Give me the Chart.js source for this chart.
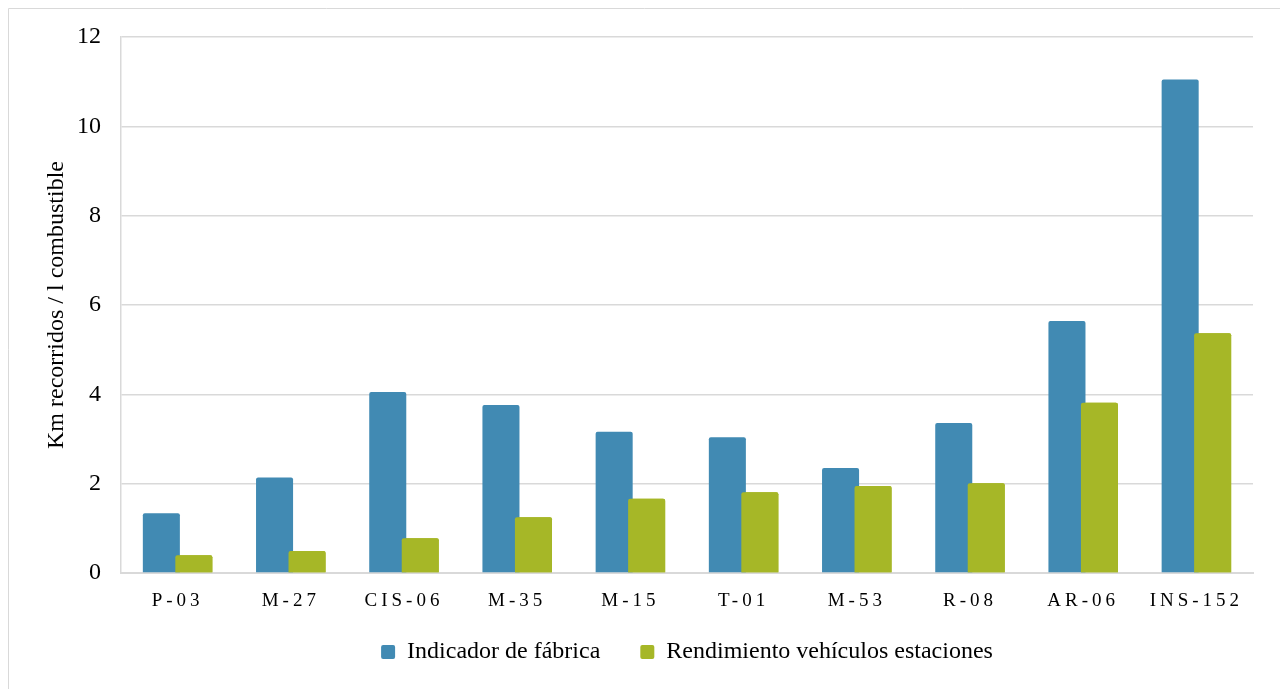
<!DOCTYPE html>
<html>
<head>
<meta charset="utf-8">
<script src="https://cdn.jsdelivr.net/npm/chart.js@4/dist/chart.umd.min.js"></script>
<style>
html,body{margin:0;padding:0;background:#fff;}
#wrap{position:absolute;left:0;top:0;width:1280px;height:689px;}
</style>
</head>
<body>
<div id="wrap"><canvas id="c" width="1280" height="689"></canvas></div>
<script>
const categories = ['P-03','M-27','CIS-06','M-35','M-15','T-01','M-53','R-08','AR-06','INS-152'];
const fabrica = [1.34, 2.14, 4.05, 3.76, 3.16, 3.04, 2.35, 3.36, 5.64, 11.05];
const rendimiento = [0.40, 0.49, 0.78, 1.25, 1.66, 1.81, 1.95, 2.01, 3.81, 5.37];
const seriesNames = ['Indicador de fábrica', 'Rendimiento vehículos estaciones'];
const yTicks = [0, 2, 4, 6, 8, 10, 12];
const yTitle = 'Km recorridos / l combustible';

const FONT = "'Liberation Serif', 'Times New Roman', serif";

const borderPlugin = {
  id: 'outerBorder',
  beforeDraw(chart) {
    const ctx = chart.ctx;
    ctx.save();
    ctx.strokeStyle = '#d9d9d9';
    ctx.lineWidth = 1;
    ctx.beginPath();
    ctx.moveTo(8.5, 700);
    ctx.lineTo(8.5, 8.5);
    ctx.lineTo(1290, 8.5);
    ctx.stroke();
    ctx.restore();
  }
};

const spacingPlugin = {
  id: 'xLetterSpacing',
  afterLayout(chart) {
    const s = chart.scales.x;
    if (s && !s._spPatched) {
      const orig = s.drawLabels.bind(s);
      s._computeLabelArea = function() { return undefined; };
      s.drawLabels = function(area) {
        const ctx = this.ctx;
        ctx.save();
        ctx.letterSpacing = '4px';
        orig(area);
        ctx.restore();
      };
      s._spPatched = true;
    }
  }
};

// second series overlaps the first one, so draw it on top
const overlapPlugin = {
  id: 'overlapOrder',
  afterDatasetsDraw(chart) {
    const meta = chart.getDatasetMeta(1);
    if (!meta.hidden) {
      const ctx = chart.ctx;
      ctx.save();
      meta.data.forEach(el => el.draw(ctx));
      ctx.restore();
    }
  }
};

new Chart(document.getElementById('c'), {
  type: 'bar',
  data: {
    labels: categories,
    datasets: [
      { label: seriesNames[0], data: fabrica, backgroundColor: '#418AB3', borderRadius: 2, borderSkipped: 'bottom',
        categoryPercentage: 0.574, barPercentage: 1.14 },
      { label: seriesNames[1], data: rendimiento, backgroundColor: '#A6B727', borderRadius: 2, borderSkipped: 'bottom',
        categoryPercentage: 0.574, barPercentage: 1.14 }
    ]
  },
  options: {
    responsive: false,
    animation: false,
    devicePixelRatio: 1,
    layout: { padding: { left: 0, right: 27, top: 37, bottom: 15 } },
    plugins: {
      legend: {
        position: 'bottom',
        fullSize: false,
        labels: {
          boxWidth: 14, boxHeight: 14, useBorderRadius: true, borderRadius: 2,
          padding: 40,
          color: '#000',
          font: { family: FONT, size: 24 }
        }
      },
      tooltip: { enabled: false }
    },
    scales: {
      x: {
        afterFit(scale) { scale.height = 27; },
        grid: { display: false, drawTicks: false },
        border: { display: true, color: '#d9d9d9', width: 2 },
        ticks: { color: '#000', font: { family: FONT, size: 19 }, padding: 17, maxRotation: 0, autoSkip: false }
      },
      y: {
        min: 0, max: 12,
        afterBuildTicks(scale) { scale.ticks = yTicks.map(v => ({ value: v })); },
        afterFit(scale) { scale.width = 121; scale.paddingTop = 0; },
        grid: { color: '#d9d9d9', lineWidth: 1.5, drawTicks: false },
        border: { display: true, color: '#d9d9d9', width: 1.5 },
        ticks: { color: '#000', font: { family: FONT, size: 24 }, padding: 20 },
        title: { display: true, text: yTitle, color: '#000', font: { family: FONT, size: 24 }, padding: { top: 42, bottom: 0 } }
      }
    }
  },
  plugins: [borderPlugin, spacingPlugin, overlapPlugin]
});
</script>
</body>
</html>
